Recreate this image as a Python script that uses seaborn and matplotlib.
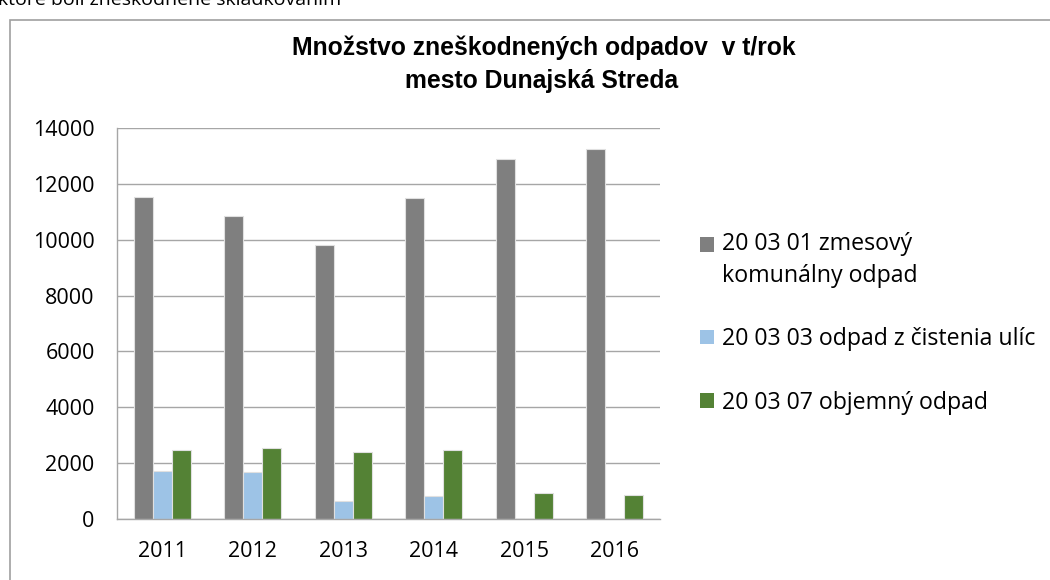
import numpy as np
import pandas as pd
import matplotlib
matplotlib.use("Agg")
import matplotlib.pyplot as plt
import seaborn as sns
from matplotlib.patches import Rectangle
from matplotlib.legend_handler import HandlerPatch

years = ["2011", "2012", "2013", "2014", "2015", "2016"]
zmesovy = [11540, 10860, 9800, 11480, 12880, 13250]
cistenie = [1710, 1670, 640, 835, 0, 0]
objemny = [2470, 2540, 2390, 2470, 930, 860]

series_names = [
    "20 03 01 zmesový\nkomunálny odpad",
    "20 03 03 odpad z čistenia ulíc",
    "20 03 07 objemný odpad",
]
colors = ["#7f7f7f", "#9dc3e6", "#548235"]

df = pd.DataFrame({
    "rok": years * 3,
    "hodnota": zmesovy + cistenie + objemny,
    "druh": [series_names[0]] * 6 + [series_names[1]] * 6 + [series_names[2]] * 6,
})

sns.set_theme(style="white")
plt.rcParams["font.family"] = ["Open Sans", "DejaVu Sans"]
plt.rcParams["text.color"] = "black"

fig = plt.figure(figsize=(10.5, 5.8), dpi=100)
ax = fig.add_axes([0.1114, 0.1052, 0.5172, 0.6741])

sns.barplot(data=df, x="rok", y="hodnota", hue="druh", palette=colors,
            width=0.63, edgecolor="#e0e0e0", linewidth=0.8, ax=ax,
            saturation=1, errorbar=None, legend=False)

ax.set_ylim(0, 14000)
ax.set_yticks(np.arange(0, 14001, 2000))
ax.yaxis.grid(True, color="#a6a6a6", linewidth=1)
ax.set_axisbelow(True)
ax.set_xlabel("")
ax.set_ylabel("")
for s in ["top", "right"]:
    ax.spines[s].set_visible(False)
for s in ["left", "bottom"]:
    ax.spines[s].set_color("#a6a6a6")
    ax.spines[s].set_linewidth(1)
ax.tick_params(axis="both", length=0, labelsize=15.5, colors="black", pad=16)


# square of the two-line entry sits next to its first line, like in Excel
def top_square(legend, orig_handle, xdescent, ydescent, width, height, fontsize):
    return Rectangle((-xdescent, -ydescent + 11.7), width, height)


handles = [Rectangle((0, 0), 1, 1, facecolor=c, edgecolor="none") for c in colors]
leg = ax.legend(handles, series_names, loc="center left", bbox_to_anchor=(1.035, 0.5),
                frameon=False, fontsize=16.7, handlelength=0.6, handleheight=0.6,
                handletextpad=0.35, labelspacing=1.7,
                handler_map={handles[0]: HandlerPatch(patch_func=top_square)})
leg.get_texts()[0].set_linespacing(1.4)

fig.text(0.518, 0.918, "Množstvo zneškodnených odpadov  v t/rok",
         ha="center", va="center", fontsize=17.8, fontweight="bold",
         family=["Liberation Sans", "DejaVu Sans"])
fig.text(0.516, 0.861, "mesto Dunajská Streda",
         ha="center", va="center", fontsize=17.8, fontweight="bold",
         family=["Liberation Sans", "DejaVu Sans"])

fig.text(-0.002, 0.991, "ktoré boli zneškodnené skládkovaním", ha="left",
         va="baseline", fontsize=14)

fig.patches.append(Rectangle((10 / 1050, -0.1), 1.2, 1.1 - 20 / 580,
                             transform=fig.transFigure, fill=False,
                             edgecolor="#a0a0a0", linewidth=1.2))

fig.savefig("out.png", dpi=100)
